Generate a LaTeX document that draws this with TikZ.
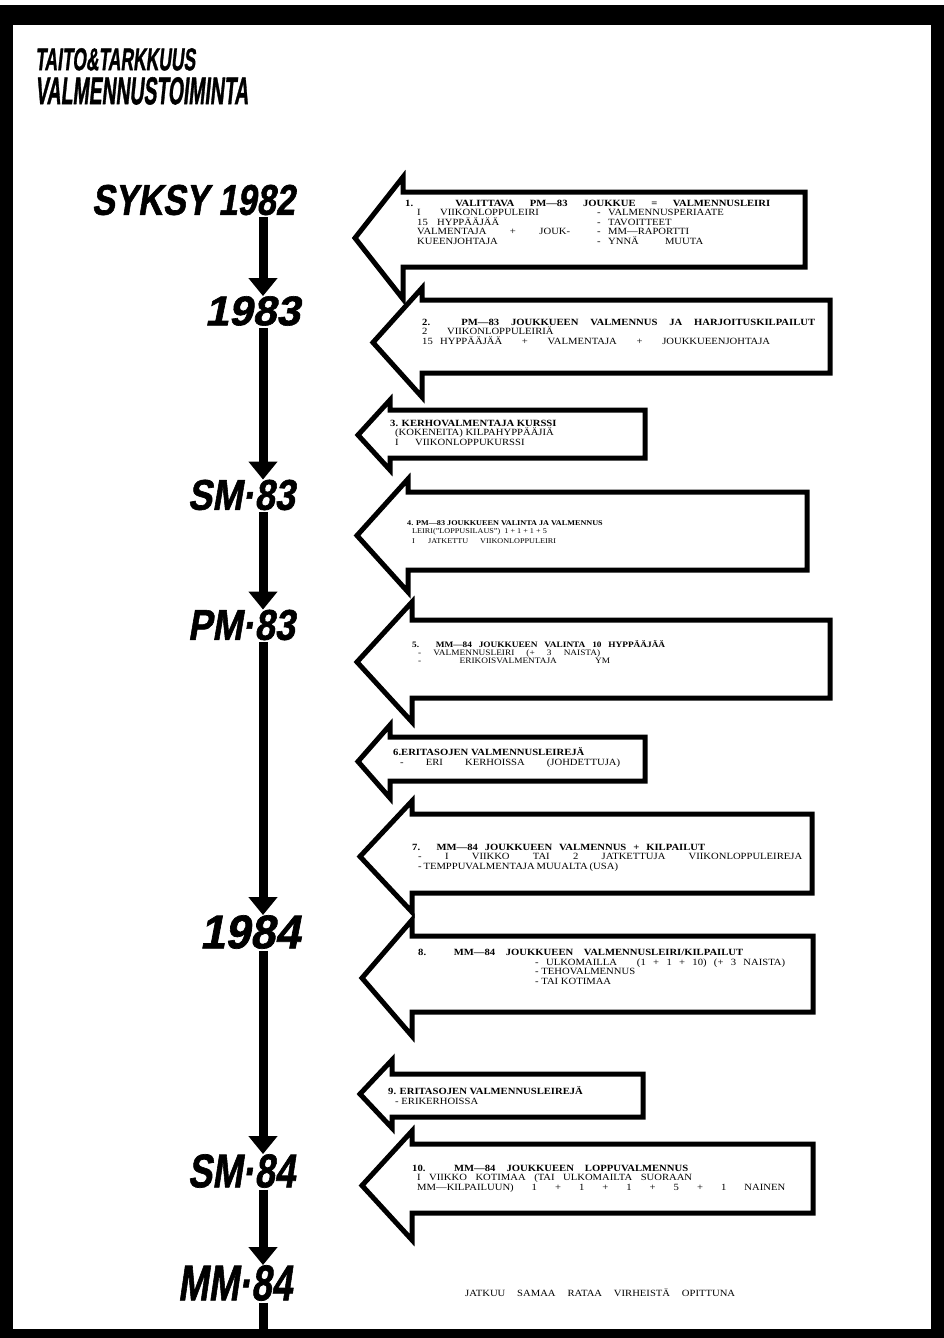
\documentclass[tikz,border=0pt]{standalone}
\usepackage{graphicx}
\usepackage{fontspec}
\usetikzlibrary{arrows.meta}
\newfontfamily\heavyfont[FakeSlant=0.2,FakeBold=1.5]{Liberation Sans}
\newfontfamily\printfont[FakeStretch=1.12]{Liberation Serif}

\tikzset{
  barrow/.style={draw=black, fill=white, line width=5pt, line join=miter, miter limit=20},
  tline/.style={line width=9pt, -{Triangle[width=28pt,length=18pt]}, shorten <=2pt},
  tlabel/.style={anchor=east, inner sep=0pt},
  ttl/.style={anchor=north west, inner sep=0pt},
  txt/.style={anchor=base west, inner sep=0pt, font=\printfont\fontsize{#1}{#1}\selectfont},
  txt/.default=9.5,
  txb/.style={anchor=base west, inner sep=0pt, font=\printfont\bfseries\fontsize{#1}{#1}\selectfont},
  txb/.default=9.5,
}

\newcommand\tllabel[6]{\node[tlabel] (#1) at (#2,#3) {\resizebox{#4pt}{#5pt}{\heavyfont\bfseries #6}};}
\newcommand\blockarrow[8]{%
  \draw[barrow] (#2,{(#5+#8)/2}) -- (#3,#5) -- (#3,#6) -- (#4,#6) -- (#4,#7) -- (#3,#7) -- (#3,#8) -- cycle;
  \coordinate (#1) at (#2,{(#5+#8)/2});}
\newcommand\spreadbox[2]{\makebox[#1pt][s]{#2}}

\begin{document}
\begin{tikzpicture}[x=1pt,y=-1pt]
\useasboundingbox (0,0) rectangle (944,1338);
% page and black frame
\fill[white] (0,0) rectangle (944,1338);
\fill[black] (0,5) rectangle (944,1338);
\fill[white] (13,25) rectangle (931,1329);

% title
\node[ttl] (title1) at (35,48) {\resizebox{160pt}{22pt}{\heavyfont\bfseries TAITO\&TARKKUUS}};
\node[ttl] (title2) at (35,77) {\resizebox{213pt}{27pt}{\heavyfont\bfseries VALMENNUSTOIMINTA}};

% block arrows: name, tip x, back x, right x, head top, body top, body bottom, head bottom
\blockarrow{b1}{355}{403}{805}{177}{192}{267}{299}
\blockarrow{b2}{373}{422}{830}{288}{300}{373}{397}
\blockarrow{b3}{358}{390}{645}{400}{410}{458}{470}
\blockarrow{b4}{357}{408}{807}{479}{492}{570}{592}
\blockarrow{b5}{357}{412}{830}{602}{620}{698}{722}
\blockarrow{b6}{358}{390}{645}{725}{737}{781}{798}
\blockarrow{b7}{360}{412}{812}{801}{814}{893}{912}
\blockarrow{b8}{362}{412}{813}{920}{936}{1012}{1036}
\blockarrow{b9}{360}{392}{643}{1060}{1074}{1117}{1128}
\blockarrow{b10}{362}{412}{813}{1131}{1144}{1213}{1240}

% texts arrow 1
\node[txb] (a1l1) at (405,206) {\spreadbox{365}{1. VALITTAVA PM—83 JOUKKUE = VALMENNUSLEIRI}};
\node[txt] (a1l2) at (417,215.5) {\makebox[23pt][l]{I}VIIKONLOPPULEIRI};
\node[txt] (a1r2) at (597,215.5) {\makebox[11pt][l]{-}VALMENNUSPERIAATE};
\node[txt] (a1l3) at (417,225) {\makebox[20pt][l]{15}HYPPÄÄJÄÄ};
\node[txt] (a1r3) at (597,225) {\makebox[11pt][l]{-}TAVOITTEET};
\node[txt] (a1l4) at (417,234.5) {\spreadbox{153}{VALMENTAJA + JOUK-}};
\node[txt] (a1r4) at (597,234.5) {\makebox[11pt][l]{-}MM—RAPORTTI};
\node[txt] (a1l5) at (417,244) {KUEENJOHTAJA};
\node[txt] (a1r5) at (597,244) {\makebox[11pt][l]{-}\spreadbox{95}{YNNÄ MUUTA}};

% arrow 2
\node[txb] (a2l1) at (422,325.5) {\spreadbox{393}{2. PM—83 JOUKKUEEN VALMENNUS JA HARJOITUSKILPAILUT}};
\node[txt] (a2l2) at (422,334.5) {\makebox[25pt][l]{2}VIIKONLOPPULEIRIÄ};
\node[txt] (a2l3) at (422,344) {\makebox[18pt][l]{15}\spreadbox{330}{HYPPÄÄJÄÄ + VALMENTAJA + JOUKKUEENJOHTAJA}};

% arrow 3
\node[txb=9.5] (a3l1) at (390,426) {3. KERHOVALMENTAJA KURSSI};
\node[txt=9.5] (a3l2) at (395,435) {(KOKENEITA) KILPAHYPPÄÄJIÄ};
\node[txt=9.5] (a3l3) at (395,445) {\makebox[20pt][l]{I}VIIKONLOPPUKURSSI};

% arrow 4
\node[txb=7.3] (a4l1) at (407,525.7) {4. PM—83 JOUKKUEEN VALINTA JA VALMENNUS};
\node[txt=7.3] (a4l2) at (412,533.7) {LEIRI(”LOPPUSILAUS”)\ \ 1 + 1 + 1 + 5};
\node[txt=7.3] (a4l3) at (412,543.7) {\makebox[16pt][l]{I}JATKETTU\hspace{12pt}VIIKONLOPPULEIRI};

% arrow 5
\node[txb=8.3] (a5l1) at (412,647) {\spreadbox{253}{5. MM—84 JOUKKUEEN VALINTA 10 HYPPÄÄJÄÄ}};
\node[txt=8.3] (a5l2) at (418,655.5) {\spreadbox{182}{- VALMENNUSLEIRI (+ 3 NAISTA)}};
\node[txt=8.3] (a5l3) at (418,663.5) {\spreadbox{192}{- ERIKOISVALMENTAJA YM}};

% arrow 6
\node[txb=9.5] (a6l1) at (393,755.5) {6.ERITASOJEN VALMENNUSLEIREJÄ};
\node[txt=9.5] (a6l2) at (400,765.5) {\spreadbox{220}{- ERI KERHOISSA (JOHDETTUJA)}};

% arrow 7
\node[txb] (a7l1) at (412,850.5) {\spreadbox{293}{7. MM—84 JOUKKUEEN VALMENNUS + KILPAILUT}};
\node[txt] (a7l2) at (418,859.5) {\spreadbox{384}{- I VIIKKO TAI 2 JATKETTUJA VIIKONLOPPULEIREJA}};
\node[txt] (a7l3) at (418,869) {\spreadbox{185}{- TEMPPUVALMENTAJA MUUALTA (USA)}};

% arrow 8
\node[txb] (a8l1) at (418,955.5) {\spreadbox{325}{8. MM—84 JOUKKUEEN VALMENNUSLEIRI/KILPAILUT}};
\node[txt] (a8l2) at (535,965) {\spreadbox{250}{- ULKOMAILLA\hspace{20pt}(1 + 1 + 10) (+ 3 NAISTA)}};
\node[txt] (a8l3) at (535,974.5) {- TEHOVALMENNUS};
\node[txt] (a8l4) at (535,984) {- TAI KOTIMAA};

% arrow 9
\node[txb=9.5] (a9l1) at (388,1094.5) {9. ERITASOJEN VALMENNUSLEIREJÄ};
\node[txt=9.5] (a9l2) at (395,1104.5) {- ERIKERHOISSA};

% arrow 10
\node[txb] (a10l1) at (412,1171.5) {\spreadbox{276}{10. MM—84 JOUKKUEEN LOPPUVALMENNUS}};
\node[txt] (a10l2) at (417,1180.5) {\spreadbox{275}{I VIIKKO KOTIMAA (TAI ULKOMAILTA SUORAAN}};
\node[txt] (a10l3) at (417,1190) {\spreadbox{368}{MM—KILPAILUUN) 1 + 1 + 1 + 5 + 1 NAINEN}};

% bottom line
\node[txt] (foot) at (465,1296) {\spreadbox{270}{JATKUU SAMAA RATAA VIRHEISTÄ OPITTUNA}};

% timeline labels
\tllabel{l1}{295}{200}{203}{30}{SYKSY 1982}
\tllabel{l2}{300}{311}{95}{29}{1983}
\tllabel{l3}{295}{495}{107}{30}{SM·83}
\tllabel{l4}{295}{625}{107}{30}{PM·83}
\tllabel{l5}{300}{932}{100}{33}{1984}
\tllabel{l6}{295}{1171}{107}{33}{SM·84}
\tllabel{l7}{292}{1283}{114}{35}{MM·84}

% timeline connectors
\coordinate (tx) at (263,0);
\coordinate (tend) at (263,1338);
\draw[tline] (l1.south -| tx) -- (l2.north -| tx);
\draw[tline] (l2.south -| tx) -- (l3.north -| tx);
\draw[tline] (l3.south -| tx) -- (l4.north -| tx);
\draw[tline] (l4.south -| tx) -- (l5.north -| tx);
\draw[tline] (l5.south -| tx) -- (l6.north -| tx);
\draw[tline] (l6.south -| tx) -- (l7.north -| tx);
\draw[line width=9pt, shorten <=2pt] (l7.south -| tx) -- (tend);
\end{tikzpicture}
\end{document}
